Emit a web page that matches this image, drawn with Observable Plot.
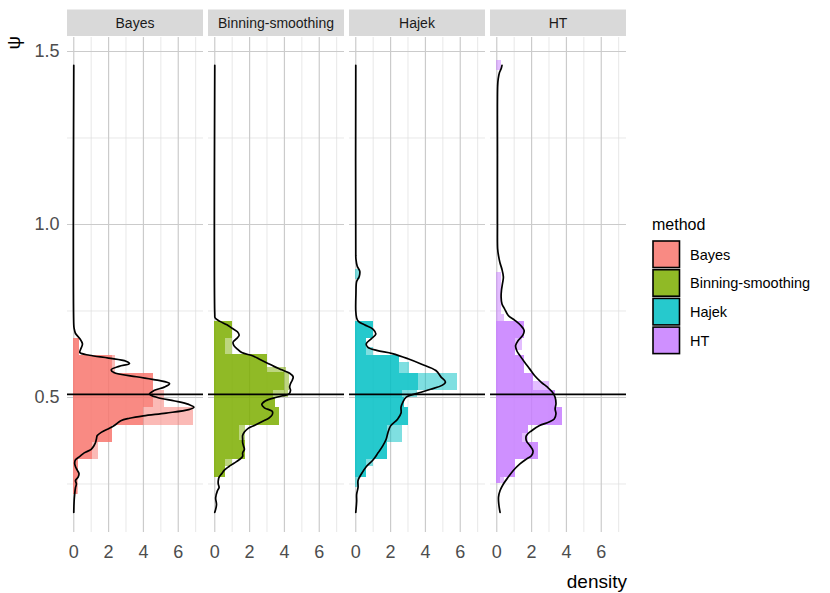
<!DOCTYPE html>
<html><head><meta charset="utf-8">
<script src="https://cdn.jsdelivr.net/npm/d3@7"></script>
<script src="https://cdn.jsdelivr.net/npm/@observablehq/plot@0.6"></script>
<style>body{margin:0;background:#fff} #chart{width:830px;height:593px}</style>
</head><body><div id="chart"></div>
<script>
const methods = ["Bayes", "Binning-smoothing", "Hajek", "HT"];
const colors = ["#F8766D", "#7CAE00", "#00BFC4", "#C77CFF"];
const xTicks = [0, 2, 4, 6];
const xMinor = [1, 3, 5, 7];
const yTicks = [0.5, 1.0, 1.5];
const yMinor = [0.25, 0.75, 1.25];
const refLine = [0.509];

// Histogram bars: bin bounds (psi), darker (overlapping) extent, lighter extent
const bayesLo    = [0.22, 0.27, 0.32, 0.37, 0.42, 0.47, 0.52, 0.57, 0.62];
const bayesHi    = [0.27, 0.32, 0.37, 0.42, 0.47, 0.52, 0.57, 0.62, 0.67];
const bayesDark  = [0.2, 0.3, 1.1, 2.2, 4.0, 4.6, 4.6, 2.2, 0.35];
const bayesLight = [0.3, 0.3, 1.4, 2.2, 6.9, 5.2, 4.6, 2.4, 0.35];

const binLo    = [0.27, 0.30, 0.32, 0.375, 0.42, 0.47, 0.50, 0.52, 0.573, 0.588, 0.625, 0.67];
const binHi    = [0.30, 0.32, 0.375, 0.42, 0.47, 0.50, 0.52, 0.573, 0.588, 0.625, 0.67, 0.72];
const binDark  = [0.63, 0.63, 1.77, 1.4, 3.7, 3.5, 3.4, 4.0, 3.0, 3.0, 0.63, 1.0];
const binLight = [0.63, 1.0, 1.77, 1.77, 3.7, 3.5, 4.25, 4.3, 4.1, 3.0, 1.0, 1.0];

const hajLo    = [0.24, 0.27, 0.30, 0.32, 0.37, 0.42, 0.47, 0.50, 0.52, 0.57, 0.60, 0.62, 0.645, 0.67, 0.84];
const hajHi    = [0.27, 0.30, 0.32, 0.37, 0.42, 0.47, 0.50, 0.52, 0.57, 0.60, 0.62, 0.645, 0.67, 0.72, 0.87];
const hajDark  = [0, 0.6, 0.6, 1.8, 1.85, 3.0, 2.8, 2.7, 3.6, 2.5, 2.5, 0.6, 0.6, 1.0, 0];
const hajLight = [0.23, 0.6, 1.0, 1.8, 2.7, 3.0, 2.8, 3.55, 5.85, 3.1, 2.5, 1.0, 0.6, 1.0, 0.25];

const htLo    = [0.25, 0.27, 0.32, 0.37, 0.395, 0.42, 0.47, 0.52, 0.545, 0.57, 0.62, 0.636, 0.67, 0.72, 0.74, 1.445];
const htHi    = [0.27, 0.32, 0.37, 0.395, 0.42, 0.47, 0.52, 0.545, 0.57, 0.62, 0.636, 0.67, 0.72, 0.74, 0.86, 1.475];
const htDark  = [0.2, 1.05, 2.4, 1.45, 1.8, 3.8, 3.35, 2.1, 2.1, 1.6, 1.05, 1.05, 1.57, 0, 0, 0];
const htLight = [0.47, 1.05, 2.4, 1.8, 1.8, 3.8, 3.35, 3.0, 2.1, 1.6, 1.05, 1.45, 1.57, 0.47, 0.3, 0.3];

// Density curves (psi, density)
const bayesPsi = [1.46, 0.71, 0.70, 0.685, 0.67, 0.655, 0.64, 0.63, 0.622, 0.614, 0.605, 0.598, 0.59, 0.58, 0.572, 0.56, 0.55, 0.54, 0.53, 0.52, 0.51, 0.50, 0.49, 0.48, 0.472, 0.465, 0.455, 0.447, 0.44, 0.433, 0.42, 0.41, 0.40, 0.39, 0.38, 0.37, 0.36, 0.35, 0.34, 0.33, 0.32, 0.31, 0.30, 0.29, 0.28, 0.27, 0.26, 0.25, 0.24, 0.22, 0.20, 0.168];
const bayesDen = [0, 0.0, 0.02, 0.1, 0.35, 0.5, 0.4, 0.35, 0.9, 2.0, 3.0, 3.2, 2.6, 2.15, 2.3, 3.6, 4.8, 5.5, 5.2, 4.6, 4.35, 4.8, 5.8, 6.6, 6.9, 6.6, 5.3, 4.0, 3.2, 2.7, 2.35, 2.0, 1.6, 1.35, 1.3, 1.25, 1.15, 1.0, 0.6, 0.35, 0.1, 0.05, 0.1, 0.2, 0.3, 0.25, 0.1, 0.15, 0.1, 0.05, 0.02, 0];

const binPsi = [1.46, 0.74, 0.73, 0.72, 0.71, 0.70, 0.69, 0.68, 0.67, 0.66, 0.65, 0.64, 0.63, 0.62, 0.61, 0.60, 0.59, 0.58, 0.57, 0.56, 0.55, 0.54, 0.53, 0.52, 0.51, 0.505, 0.50, 0.49, 0.48, 0.47, 0.46, 0.45, 0.44, 0.43, 0.42, 0.41, 0.40, 0.39, 0.38, 0.37, 0.36, 0.35, 0.34, 0.33, 0.32, 0.31, 0.30, 0.29, 0.28, 0.27, 0.26, 0.25, 0.24, 0.23, 0.21, 0.19, 0.168];
const binDen = [0, 0, 0.02, 0.3, 0.7, 1.0, 1.3, 1.4, 1.25, 1.05, 1.1, 1.3, 1.55, 2.2, 2.6, 3.0, 3.4, 3.85, 4.3, 4.5, 4.45, 4.35, 4.3, 4.35, 4.25, 3.9, 3.5, 2.9, 2.7, 2.85, 3.3, 3.3, 3.1, 2.7, 2.3, 1.9, 1.7, 1.6, 1.6, 1.6, 1.65, 1.7, 1.6, 1.6, 1.4, 1.1, 0.8, 0.55, 0.4, 0.25, 0.2, 0.2, 0.25, 0.15, 0.05, 0.1, 0];

const hajPsi = [1.46, 0.91, 0.90, 0.88, 0.865, 0.85, 0.835, 0.80, 0.75, 0.73, 0.72, 0.71, 0.697, 0.683, 0.67, 0.655, 0.645, 0.636, 0.627, 0.612, 0.597, 0.578, 0.559, 0.545, 0.535, 0.524, 0.515, 0.501, 0.486, 0.472, 0.455, 0.437, 0.418, 0.399, 0.38, 0.36, 0.34, 0.32, 0.30, 0.279, 0.26, 0.24, 0.22, 0.20, 0.168];
const hajDen = [0, 0, 0.01, 0.08, 0.23, 0.2, 0.05, 0.01, 0, 0.05, 0.15, 0.5, 1.0, 1.15, 0.9, 0.6, 0.7, 1.2, 2.1, 3.0, 3.75, 4.6, 4.9, 5.15, 4.95, 4.3, 3.75, 2.9, 2.7, 2.6, 2.6, 2.4, 2.0, 1.85, 1.75, 1.55, 1.28, 1.0, 0.6, 0.32, 0.13, 0.13, 0.05, 0.05, 0];

const htPsi = [1.46, 1.45, 1.44, 1.42, 1.40, 1.2, 1.0, 0.93, 0.91, 0.89, 0.87, 0.848, 0.83, 0.81, 0.79, 0.77, 0.757, 0.737, 0.723, 0.708, 0.694, 0.68, 0.665, 0.65, 0.635, 0.621, 0.602, 0.582, 0.563, 0.544, 0.529, 0.515, 0.501, 0.482, 0.467, 0.453, 0.438, 0.429, 0.419, 0.404, 0.39, 0.375, 0.361, 0.346, 0.332, 0.322, 0.308, 0.289, 0.27, 0.25, 0.231, 0.212, 0.19, 0.168];
const htDen = [0.3, 0.25, 0.16, 0.08, 0.05, 0.04, 0.04, 0.05, 0.1, 0.18, 0.3, 0.38, 0.33, 0.27, 0.25, 0.3, 0.44, 0.66, 1.04, 1.38, 1.57, 1.5, 1.23, 1.08, 1.15, 1.33, 1.6, 1.9, 2.18, 2.56, 2.93, 3.2, 3.35, 3.4, 3.35, 3.4, 3.3, 3.0, 2.46, 2.0, 1.7, 1.7, 1.9, 2.08, 2.0, 1.7, 1.33, 0.95, 0.66, 0.38, 0.19, 0.1, 0.12, 0.19];

const bars = [];
function addBars(method, lo, hi, dark, light) {
  lo.forEach((v, i) => bars.push({method, lo: v, hi: hi[i], dark: dark[i], light: light[i]}));
}
addBars("Bayes", bayesLo, bayesHi, bayesDark, bayesLight);
addBars("Binning-smoothing", binLo, binHi, binDark, binLight);
addBars("Hajek", hajLo, hajHi, hajDark, hajLight);
addBars("HT", htLo, htHi, htDark, htLight);

const curves = [];
function addCurve(method, psi, den) {
  psi.forEach((v, i) => curves.push({method, psi: v, d: den[i]}));
}
addCurve("Bayes", bayesPsi, bayesDen);
addCurve("Binning-smoothing", binPsi, binDen);
addCurve("Hajek", hajPsi, hajDen);
addCurve("HT", htPsi, htDen);

const FONT = "'Liberation Sans', Arial, Helvetica, sans-serif";

const chart = Plot.plot({
  width: 830, height: 593,
  marginLeft: 65, marginRight: 203, marginTop: 37, marginBottom: 61,
  style: {fontFamily: FONT, background: "white", overflow: "visible"},
  fx: {domain: methods, paddingInner: 0.036, paddingOuter: 0, axis: null, label: null},
  x: {domain: [-0.36, 7.45]},
  y: {domain: [0.1098, 1.5405]},
  color: {domain: methods, range: colors},
  marks: [
    Plot.gridX({ticks: xMinor, stroke: "#DEDEDE", strokeOpacity: 1, strokeWidth: 0.7}),
    Plot.gridY({ticks: yMinor, stroke: "#DEDEDE", strokeOpacity: 1, strokeWidth: 0.7}),
    Plot.gridX({ticks: xTicks, stroke: "#CBCBCB", strokeOpacity: 1, strokeWidth: 1.2}),
    Plot.gridY({ticks: yTicks, stroke: "#CBCBCB", strokeOpacity: 1, strokeWidth: 1.2}),
    Plot.rectX(bars, {x1: 0, x2: "dark", y1: "lo", y2: "hi", fx: "method", fill: "method", fillOpacity: 0.85, inset: 0, shapeRendering: "crispEdges"}),
    Plot.rectX(bars, {x1: "dark", x2: "light", y1: "lo", y2: "hi", fx: "method", fill: "method", fillOpacity: 0.5, inset: 0, shapeRendering: "crispEdges"}),
    Plot.ruleY(refLine, {stroke: "black", strokeWidth: 1.6}),
    Plot.line(curves, {x: "d", y: "psi", fx: "method", stroke: "black", strokeWidth: 1.7, curve: "catmull-rom"}),
    Plot.axisX({ticks: xTicks, tickSize: 0, tickPadding: 13, fontSize: 18, label: null}),
    Plot.axisY({ticks: yTicks, tickSize: 0, tickPadding: 8, fontSize: 18, label: null, tickFormat: d3.format(".1f")})
  ]
});
document.getElementById("chart").appendChild(chart);

const svg = d3.select(chart);
svg.selectAll('g[aria-label="x-axis tick label"], g[aria-label="y-axis tick label"]').attr("fill", "#4D4D4D");

// facet strips
const fx = chart.scale("fx");
const stripG = svg.append("g");
methods.forEach(m => {
  const x0 = fx.apply(m);
  const w = fx.bandwidth;
  stripG.append("rect").attr("x", x0).attr("y", 9.5).attr("width", w).attr("height", 26.5).attr("fill", "#D9D9D9");
  stripG.append("text").attr("x", x0 + w / 2).attr("y", 27.5).attr("text-anchor", "middle")
    .attr("font-size", 14).attr("fill", "#1A1A1A").attr("font-family", FONT).text(m);
});

// axis titles
svg.append("text").attr("transform", "translate(20,36) rotate(-90)").attr("text-anchor", "end")
  .attr("font-size", 19).attr("fill", "black").attr("font-family", FONT).text("ψ");
svg.append("text").attr("x", 627).attr("y", 588).attr("text-anchor", "end")
  .attr("font-size", 19).attr("fill", "black").attr("font-family", FONT).text("density");

// legend
const lg = svg.append("g").attr("font-family", FONT).attr("text-anchor", "start");
lg.append("text").attr("x", 652).attr("y", 230).attr("text-anchor", "start").attr("font-size", 16).attr("fill", "black").text("method");
methods.forEach((m, i) => {
  const y = 241 + i * 28.7;
  lg.append("rect").attr("x", 653).attr("y", y).attr("width", 26.5).attr("height", 26.5)
    .attr("fill", colors[i]).attr("fill-opacity", 0.85).attr("stroke", "black").attr("stroke-width", 1.6);
  lg.append("text").attr("x", 690).attr("y", y + 18.5).attr("text-anchor", "start").attr("font-size", 14.5).attr("fill", "black").text(m);
});
</script></body></html>
